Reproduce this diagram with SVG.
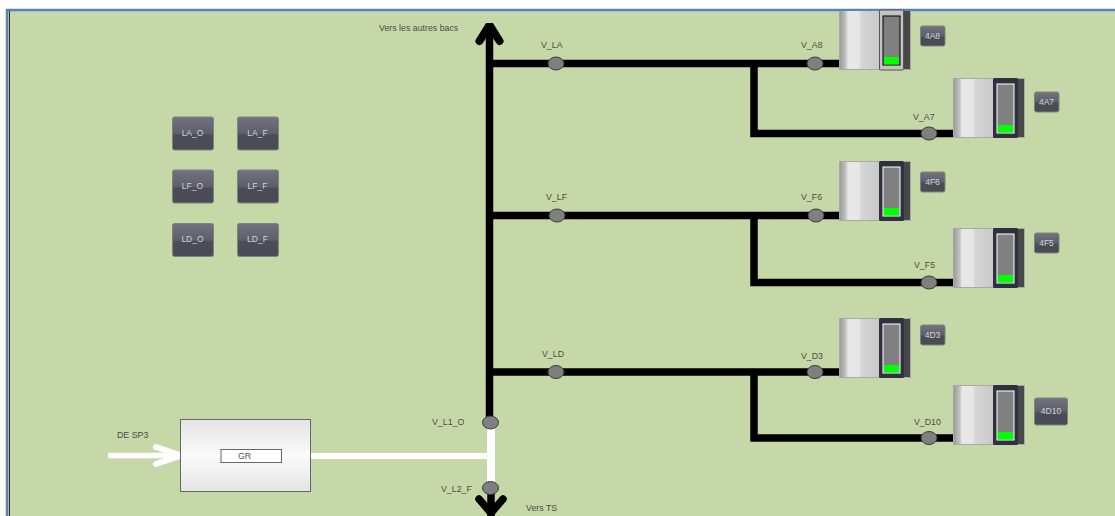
<svg xmlns="http://www.w3.org/2000/svg" width="1115" height="516" viewBox="0 0 1115 516">
<style>
.lbl{font-family:"Liberation Sans",Arial,sans-serif;font-size:8.800px;fill:#4d4d40}
.btn{font-family:"Liberation Sans",Arial,sans-serif;font-size:8.500px;fill:#cfd3dc;text-anchor:middle}
.pipe{fill:none;stroke:#000;stroke-width:7.500}
.wpipe{fill:none;stroke:#fff;stroke-width:8}
.valve{fill:#7f7f7f;stroke:#3c3c3c;stroke-width:1}
.bb{fill:url(#btnG);stroke:#7d8478;stroke-width:1}
</style>
<defs>
<linearGradient id="btnG" x1="0" y1="0" x2="0" y2="1">
<stop offset="0" stop-color="#72737f"/><stop offset=".5" stop-color="#5e5f6b"/><stop offset=".55" stop-color="#4b4c56"/><stop offset="1" stop-color="#4a4b55"/>
</linearGradient>
<linearGradient id="cyl" x1="0" y1="0" x2="1" y2="0">
<stop offset="0" stop-color="#9c9c9c"/><stop offset=".15" stop-color="#c4c4c4"/><stop offset=".2" stop-color="#e8e8e8"/><stop offset=".48" stop-color="#e6e6e6"/><stop offset=".52" stop-color="#d6d6d6"/><stop offset="1" stop-color="#c8c8c8"/>
</linearGradient>
<linearGradient id="box" x1="0" y1="0" x2="0" y2="1">
<stop offset="0" stop-color="#e4e4e4"/><stop offset=".5" stop-color="#fafafa"/><stop offset="1" stop-color="#e4e4e4"/>
</linearGradient>
<g id="tank">
<rect x="0" y="0" width="72" height="60" fill="#a8a8a8"/>
<rect x="1" y="1" width="40" height="58" fill="url(#cyl)"/>
<rect x="65" y="1" width="6" height="58" fill="#484848"/>
<rect x="40" y="0" width="25" height="60" rx="1.500" fill="#2f3040"/>
<rect x="44" y="6" width="17" height="49" fill="#808080" stroke="#fff" stroke-width="1"/>
<rect x="45" y="47" width="15" height="7.500" fill="#00ff00"/>
</g>
<g id="tankLight">
<rect x="0" y="0" width="72" height="59" fill="#a8a8a8"/>
<rect x="1" y="0" width="40" height="58" fill="url(#cyl)"/>
<rect x="65" y="0" width="6" height="58" fill="#484848"/>
<rect x="40.500" y="-1" width="24" height="60" rx="1" fill="#c4c4c4" stroke="#555" stroke-width="1"/>
<rect x="44" y="5" width="17" height="49" fill="#808080" stroke="#000" stroke-width="1"/>
<rect x="45" y="46" width="15" height="7.500" fill="#00ff00"/>
</g>
</defs>
<rect id="page" width="1115" height="516" fill="#fff"/>
<rect id="panel" x="7" y="9" width="1108" height="507" fill="#c6d8a8"/>
<path d="M7 516V10H1115" fill="none" stroke="#5a84b8" stroke-width="2.500"/>
<path d="M9.500 11V516" stroke="#2a3030" stroke-width="1"/>

<g id="connectors">
<path class="pipe" d="M489.500 26V420"/>
<path d="M479.500 41L489.500 25L499.500 41" fill="none" stroke="#000" stroke-width="8" stroke-linecap="round" stroke-linejoin="bevel"/>
<path class="pipe" d="M490 63.500H840M754 63.500V133.500H954"/>
<path class="pipe" d="M490 215.500H840M754 215.500V282.500H954"/>
<path class="pipe" d="M490 372H840M754 372V438H954"/>
<path class="pipe" d="M491 492V516"/>
<path d="M479 499L491 513L503 499" fill="none" stroke="#000" stroke-width="7.500" stroke-linecap="round"/>
<path class="wpipe" d="M491 428V482"/>
<path class="wpipe" style="stroke-width:6" d="M311 456H488"/>
<path class="wpipe" style="stroke-width:5.500" d="M108 455.500H179"/>
<path d="M156 447L181 455.500L156 464" fill="none" stroke="#fff" stroke-width="6" stroke-linecap="round"/>
</g>

<g id="V_L1_O"><ellipse class="valve" cx="490.500" cy="422.500" rx="8" ry="6.500"/><text class="lbl" x="432" y="424.500">V_L1_O</text></g>
<g id="V_L2_F"><ellipse class="valve" cx="490.500" cy="488" rx="8" ry="6.500"/><text class="lbl" x="441" y="491.500">V_L2_F</text></g>
<g id="V_LA"><ellipse class="valve" cx="556" cy="63.500" rx="8" ry="6.500"/><text class="lbl" x="541" y="47.500">V_LA</text></g>
<g id="V_LF"><ellipse class="valve" cx="557" cy="215.500" rx="8" ry="6.500"/><text class="lbl" x="546" y="199.500">V_LF</text></g>
<g id="V_LD"><ellipse class="valve" cx="556" cy="372" rx="8" ry="6.500"/><text class="lbl" x="542" y="356.500">V_LD</text></g>
<g id="V_A8"><ellipse class="valve" cx="815" cy="63.500" rx="8" ry="6.500"/><text class="lbl" x="801" y="47.500">V_A8</text></g>
<g id="V_F6"><ellipse class="valve" cx="816" cy="215.500" rx="8" ry="6.500"/><text class="lbl" x="801" y="199.500">V_F6</text></g>
<g id="V_D3"><ellipse class="valve" cx="815" cy="372" rx="8" ry="6.500"/><text class="lbl" x="801" y="358.500">V_D3</text></g>
<g id="V_A7"><ellipse class="valve" cx="929" cy="133.500" rx="8" ry="6.500"/><text class="lbl" x="913" y="119.500">V_A7</text></g>
<g id="V_F5"><ellipse class="valve" cx="929" cy="282.500" rx="8" ry="6.500"/><text class="lbl" x="914" y="267.500">V_F5</text></g>
<g id="V_D10"><ellipse class="valve" cx="929" cy="438" rx="8" ry="6.500"/><text class="lbl" x="914" y="424.500">V_D10</text></g>

<g id="tank-4A8"><use href="#tankLight" x="839" y="11"/><rect class="bb" x="920.500" y="26" width="24.500" height="20" rx="2"/><text class="btn" x="932.500" y="38.500">4A8</text></g>
<g id="tank-4A7"><use href="#tank" x="953" y="78"/><rect class="bb" x="1034.500" y="92" width="24.500" height="20" rx="2"/><text class="btn" x="1046.500" y="104.500">4A7</text></g>
<g id="tank-4F6"><use href="#tank" x="839" y="161"/><rect class="bb" x="920.500" y="172" width="24.500" height="20" rx="2"/><text class="btn" x="932.500" y="184.500">4F6</text></g>
<g id="tank-4F5"><use href="#tank" x="953" y="228"/><rect class="bb" x="1034.500" y="233" width="24.500" height="20" rx="2"/><text class="btn" x="1046.500" y="245.500">4F5</text></g>
<g id="tank-4D3"><use href="#tank" x="839" y="318"/><rect class="bb" x="920.500" y="325" width="24.500" height="20" rx="2"/><text class="btn" x="932.500" y="337.500">4D3</text></g>
<g id="tank-4D10"><use href="#tank" x="953" y="385"/><rect class="bb" x="1034.500" y="398" width="33" height="27" rx="2"/><text class="btn" x="1051" y="414">4D10</text></g>

<g id="LA_O"><rect class="bb" x="172.500" y="117" width="41" height="33" rx="2"/><text class="btn" x="192.500" y="136">LA_O</text></g>
<g id="LA_F"><rect class="bb" x="237.500" y="117" width="41" height="33" rx="2"/><text class="btn" x="257.500" y="136">LA_F</text></g>
<g id="LF_O"><rect class="bb" x="172.500" y="170" width="41" height="33" rx="2"/><text class="btn" x="192.500" y="189">LF_O</text></g>
<g id="LF_F"><rect class="bb" x="237.500" y="170" width="41" height="33" rx="2"/><text class="btn" x="257.500" y="189">LF_F</text></g>
<g id="LD_O"><rect class="bb" x="172.500" y="223.500" width="41" height="33" rx="2"/><text class="btn" x="192.500" y="242">LD_O</text></g>
<g id="LD_F"><rect class="bb" x="237.500" y="223.500" width="41" height="33" rx="2"/><text class="btn" x="257.500" y="242">LD_F</text></g>

<g id="GR"><rect x="180.500" y="419.500" width="130" height="72" fill="url(#box)" stroke="#666" stroke-width="1"/><rect x="221" y="449.500" width="60.500" height="13" fill="#fff" stroke="#666" stroke-width="1"/><text class="lbl" x="238" y="458.500" style="fill:#555">GR</text></g>

<text class="lbl" x="117" y="438">DE SP3</text>
<text class="lbl" x="379" y="31">Vers les autres bacs</text>
<text class="lbl" x="526" y="511">Vers TS</text>
</svg>
